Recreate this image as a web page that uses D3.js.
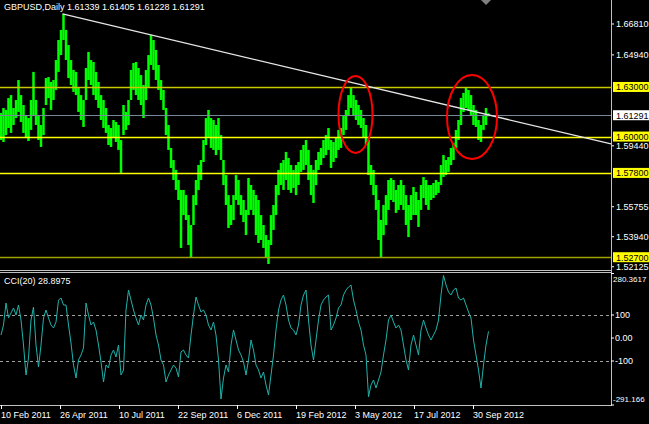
<!DOCTYPE html>
<html><head><meta charset="utf-8">
<script src="https://cdn.jsdelivr.net/npm/d3@7"></script>
<style>
html,body{margin:0;padding:0;background:#000;}
svg{display:block;}
text{font-family:"Liberation Sans",Arial,sans-serif;font-size:9px;fill:#fff;}
</style></head><body>
<svg id="c" width="649" height="424"></svg>
<script>
// ---------------- data ----------------
const symbolName = "GBPUSD,Daily";
const lastOHLC = [1.61339, 1.61405, 1.61228, 1.61291];

const highs = [
1.6143,1.6173,1.6161,1.6233,1.6251,1.6173,1.6221,1.6342,1.6251,1.6191,
1.6130,1.6112,1.6221,1.6391,1.6221,1.6130,1.6070,1.6173,1.6354,1.6360,
1.6330,1.6342,1.6463,1.6584,1.6645,1.6742,1.6645,1.6554,1.6463,1.6403,
1.6391,1.6294,1.6251,1.6221,1.6415,1.6512,1.6463,1.6451,1.6391,1.6330,
1.6251,1.6221,1.6173,1.6070,1.6052,1.6100,1.6088,1.6070,1.5979,1.6191,
1.6149,1.6221,1.6403,1.6445,1.6451,1.6415,1.6372,1.6312,1.6403,1.6493,
1.6614,1.6584,1.6524,1.6433,1.6342,1.6282,1.6173,1.6070,1.5931,1.5858,
1.5798,1.5737,1.5677,1.5677,1.5646,1.5525,1.5465,1.5646,1.5737,1.5828,
1.5858,1.5979,1.6112,1.6161,1.6112,1.6100,1.6070,1.6112,1.6009,1.5858,
1.5767,1.5646,1.5586,1.5646,1.5767,1.5737,1.5646,1.5616,1.5556,1.5749,
1.5707,1.5677,1.5646,1.5616,1.5525,1.5465,1.5404,1.5374,1.5525,1.5586,
1.5707,1.5798,1.5840,1.5858,1.5907,1.5870,1.5828,1.5798,1.5828,1.5846,
1.5919,1.5949,1.5979,1.5919,1.5828,1.5798,1.5858,1.5907,1.5931,1.5979,
1.6009,1.6052,1.5979,1.5967,1.5991,1.6040,1.6052,1.6130,1.6161,1.6251,
1.6294,1.6251,1.6221,1.6191,1.6161,1.6112,1.6070,1.5979,1.5828,1.5798,
1.5707,1.5616,1.5495,1.5586,1.5646,1.5737,1.5749,1.5737,1.5677,1.5707,
1.5737,1.5707,1.5646,1.5586,1.5646,1.5695,1.5665,1.5616,1.5707,1.5755,
1.5737,1.5707,1.5707,1.5719,1.5737,1.5725,1.5828,1.5888,1.5858,1.5876,
1.5931,1.5961,1.6040,1.6100,1.6233,1.6264,1.6300,1.6282,1.6251,1.6191,
1.6161,1.6100,1.6070,1.6130,1.6173,1.61405];

const lows = [
1.5979,1.5967,1.6009,1.6052,1.6022,1.6070,1.6112,1.6149,1.6088,1.6022,
1.5991,1.5973,1.6040,1.6130,1.6070,1.5979,1.5937,1.6009,1.6191,1.6233,
1.6161,1.6221,1.6282,1.6391,1.6493,1.6584,1.6463,1.6354,1.6312,1.6270,
1.6251,1.6149,1.6100,1.6058,1.6221,1.6342,1.6312,1.6251,1.6221,1.6173,
1.6100,1.6052,1.6022,1.5949,1.5937,1.5991,1.5967,1.5919,1.5780,1.6009,
1.6040,1.6070,1.6221,1.6282,1.6251,1.6221,1.6191,1.6112,1.6221,1.6294,
1.6433,1.6403,1.6342,1.6282,1.6221,1.6161,1.6009,1.5919,1.5810,1.5737,
1.5677,1.5616,1.5326,1.5525,1.5495,1.5344,1.5271,1.5465,1.5586,1.5677,
1.5737,1.5846,1.5949,1.5991,1.5931,1.5919,1.5888,1.5919,1.5858,1.5707,
1.5586,1.5447,1.5465,1.5495,1.5616,1.5586,1.5525,1.5483,1.5404,1.5525,
1.5556,1.5525,1.5404,1.5356,1.5374,1.5326,1.5265,1.5229,1.5344,1.5435,
1.5525,1.5646,1.5707,1.5677,1.5737,1.5677,1.5659,1.5689,1.5646,1.5707,
1.5786,1.5798,1.5828,1.5737,1.5646,1.5598,1.5707,1.5798,1.5828,1.5870,
1.5888,1.5919,1.5810,1.5846,1.5870,1.5919,1.5931,1.6009,1.6040,1.6130,
1.6173,1.6130,1.6100,1.6070,1.6052,1.5991,1.5949,1.5767,1.5707,1.5646,
1.5556,1.5374,1.5265,1.5404,1.5465,1.5556,1.5616,1.5604,1.5538,1.5556,
1.5586,1.5556,1.5465,1.5392,1.5495,1.5525,1.5525,1.5453,1.5556,1.5628,
1.5586,1.5556,1.5616,1.5628,1.5646,1.5659,1.5707,1.5755,1.5767,1.5786,
1.5828,1.5858,1.5931,1.5979,1.6070,1.6149,1.6173,1.6161,1.6130,1.6070,
1.6058,1.5979,1.5967,1.6040,1.6070,1.61228];

const cciName = "CCI(20)";
const cciValues = [
13.0,56.5,152.1,86.9,108.7,130.4,100.0,143.4,78.2,-30.4,
-160.8,-86.9,78.2,134.7,-30.4,-126.0,-30.4,86.9,121.7,86.9,
56.5,43.5,69.5,165.1,173.8,143.4,143.4,56.5,-21.7,-117.3,
-173.8,-95.6,-73.9,-43.5,152.1,100.0,56.5,69.5,34.8,-30.4,
-104.3,-191.2,-117.3,-130.4,-73.9,-52.2,-82.6,-30.4,-160.8,-139.1,
121.7,208.6,165.1,121.7,86.9,56.5,100.0,78.2,143.4,173.8,
143.4,86.9,13.0,-30.4,-95.6,-117.3,-191.2,-160.8,-139.1,-117.3,
-130.4,-169.5,-60.8,-52.2,-73.9,-86.9,13.0,100.0,178.2,143.4,
113.0,121.7,100.0,56.5,34.8,69.5,13.0,-95.6,-265.0,-173.8,
-117.3,-147.8,-30.4,34.8,-8.7,-52.2,-73.9,-104.3,-160.8,-95.6,
-8.7,-52.2,-117.3,-139.1,-173.8,-147.8,-204.3,-247.7,-160.8,-73.9,
34.8,121.7,165.1,186.9,143.4,78.2,43.5,34.8,13.0,56.5,
143.4,186.9,208.6,78.2,-30.4,-95.6,-8.7,78.2,143.4,165.1,
178.2,186.9,34.8,56.5,86.9,130.4,143.4,186.9,208.6,221.6,
230.3,165.1,121.7,69.5,34.8,-30.4,-73.9,-255.0,-204.3,-182.5,
-217.3,-182.5,-147.8,-73.9,-8.7,78.2,100.0,69.5,43.5,56.5,
34.8,-30.4,-95.6,-139.1,-30.4,13.0,-30.4,-73.9,34.8,78.2,
43.5,13.0,-8.7,13.0,34.8,78.2,186.9,272.0,230.3,199.9,
186.9,208.6,217.3,173.8,165.1,173.8,143.4,113.0,86.9,-8.7,
-73.9,-139.1,-217.3,-117.3,-30.4,28.8975];

const priceTicks = [1.66810, 1.64940, 1.59440, 1.55755, 1.53940, 1.52125];
const levels = [1.63000, 1.60000, 1.57800, 1.52700];
const cciLevels = [100, -100];
const cciTicks = [280.3617, 100, 0, -100, -291.166];
const cciTickLabels = ["280.3617", "100", "0.00", "-100", "-291.166"];
const dateLabels = ["10 Feb 2011","26 Apr 2011","10 Jul 2011","22 Sep 2011","6 Dec 2011",
                    "19 Feb 2012","3 May 2012","17 Jul 2012","30 Sep 2012"];
const dateIdx = [0, 23.6, 47.2, 70.8, 94.4, 118, 141.6, 165.2, 188.8];
// trend line anchors: [bar index, price]
const trendIdx = [24.6, 244];
const trendPrice = [1.6742, 1.5955];
// ellipse annotations: centre index, centre price, half width (bars), half height (price)
const ellipseIdx = [141.8, 188.4];
const ellipsePrice = [1.6134, 1.6118];
const ellipseHalfW = [6.8, 10];
const ellipseHalfH = [0.0233, 0.0254];

// ---------------- drawing ----------------
const svg = d3.select("#c");
const plotR = 611, mainTop = 2, mainBot = 268, cciTop = 273.5, cciBot = 405;
const x = d3.scaleLinear().domain([0, 244]).range([1, plotR]);
const y = d3.scaleLinear().domain([1.52047, 1.68141]).range([mainBot, mainTop]);
const yc = d3.scaleLinear().domain([-291.166, 280.3617]).range([cciBot, cciTop]);

svg.append("rect").attr("width",649).attr("height",424).attr("fill","#000");

const main = svg.append("g");
main.selectAll("line.bar").data(highs).join("line").attr("class","bar")
  .attr("x1",(d,i)=>x(i)).attr("x2",(d,i)=>x(i))
  .attr("y1",d=>y(d)).attr("y2",(d,i)=>y(lows[i]))
  .attr("stroke","#00ff00").attr("stroke-width",2.5);

const levelColors = ["#c8c800","#ffff00","#ffff00","#a0a000"];
main.selectAll("line.lvl").data(levels).join("line").attr("class","lvl")
  .attr("x1",0).attr("x2",plotR).attr("y1",d=>Math.round(y(d))+0.5).attr("y2",d=>Math.round(y(d))+0.5)
  .attr("stroke",(d,i)=>levelColors[i]).attr("stroke-width",1.5);

const lastClose = lastOHLC[3];
main.append("line").attr("x1",0).attr("x2",plotR)
  .attr("y1",Math.round(y(lastClose))+0.5).attr("y2",Math.round(y(lastClose))+0.5)
  .attr("stroke","#778899").attr("stroke-width",1);

main.append("line")
  .attr("x1",x(trendIdx[0])).attr("y1",y(trendPrice[0]))
  .attr("x2",x(trendIdx[1])).attr("y2",y(trendPrice[1]))
  .attr("stroke","#e6e6e6").attr("stroke-width",1.3);

main.selectAll("ellipse").data(ellipseIdx).join("ellipse")
  .attr("cx",d=>x(d)).attr("cy",(d,i)=>y(ellipsePrice[i]))
  .attr("rx",(d,i)=>x(d+ellipseHalfW[i])-x(d))
  .attr("ry",(d,i)=>y(ellipsePrice[i]-ellipseHalfH[i])-y(ellipsePrice[i]))
  .attr("fill","none").attr("stroke","#ff0000").attr("stroke-width",2);

// shift marker
svg.append("path").attr("d","M481,0 L491,0 L486,5 Z").attr("fill","#808080");

// header
svg.append("text").attr("x",4).attr("y",10)
  .text(symbolName + "  " + lastOHLC.map(v=>v.toFixed(5)).join(" "));

// right price axis
svg.selectAll("line.pt").data(priceTicks).join("line").attr("class","pt")
  .attr("x1",plotR).attr("x2",plotR+3).attr("y1",d=>y(d)).attr("y2",d=>y(d)).attr("stroke","#fff");
svg.selectAll("text.pt").data(priceTicks).join("text").attr("class","pt")
  .attr("x",616).attr("y",d=>y(d)+3).text(d=>d.toFixed(5));

const boxVals = levels.concat([lastClose]);
const boxFill = ["#ffff00","#ffff00","#ffff00","#ffff00","#ffffff"];
const bx = svg.selectAll("g.box").data(boxVals).join("g").attr("class","box");
bx.append("rect").attr("x",613).attr("y",d=>y(d)-5).attr("width",40).attr("height",10)
  .attr("fill",(d,i)=>boxFill[i]);
bx.append("text").attr("x",616).attr("y",d=>y(d)+3.5).style("fill","#000").text(d=>d.toFixed(5));

// panel frame
const frame = "#c0c0c0";
svg.append("line").attr("x1",plotR+0.5).attr("x2",plotR+0.5).attr("y1",0).attr("y2",cciBot+1).attr("stroke",frame);
svg.append("line").attr("x1",0).attr("x2",plotR).attr("y1",270.5).attr("y2",270.5).attr("stroke",frame);
svg.append("line").attr("x1",0).attr("x2",plotR).attr("y1",272.5).attr("y2",272.5).attr("stroke",frame);
svg.append("line").attr("x1",0).attr("x2",plotR+1).attr("y1",cciBot+0.5).attr("y2",cciBot+0.5).attr("stroke",frame);

// CCI panel
const cg = svg.append("g");
cg.selectAll("line.cl").data(cciLevels).join("line").attr("class","cl")
  .attr("x1",0).attr("x2",plotR).attr("y1",d=>Math.round(yc(d))+0.5).attr("y2",d=>Math.round(yc(d))+0.5)
  .attr("stroke","#a0a0a0").attr("stroke-dasharray","3,3");
cg.append("path").datum(cciValues)
  .attr("d",d3.line().x((d,i)=>x(i)).y(d=>yc(d)))
  .attr("fill","none").attr("stroke","#20b2aa").attr("stroke-width",1);
svg.append("text").attr("x",4).attr("y",284).text(cciName + " " + cciValues[cciValues.length-1].toFixed(4));

svg.selectAll("line.ct").data(cciTicks).join("line").attr("class","ct")
  .attr("x1",plotR).attr("x2",plotR+3).attr("y1",d=>yc(d)).attr("y2",d=>yc(d)).attr("stroke","#fff");
svg.selectAll("text.ct").data(cciTicks).join("text").attr("class","ct")
  .attr("x",(d,i)=>cciTickLabels[i].length>5 ? 613 : 615)
  .attr("y",(d,i)=>Math.min(Math.max(yc(d)+3,282),402))
  .style("font-size",(d,i)=>cciTickLabels[i].length>7 ? "8px" : null)
  .text((d,i)=>cciTickLabels[i]);

// date axis
svg.selectAll("line.dt").data(dateIdx).join("line").attr("class","dt")
  .attr("x1",d=>Math.round(x(d))+0.5).attr("x2",d=>Math.round(x(d))+0.5)
  .attr("y1",cciBot).attr("y2",cciBot+4).attr("stroke","#fff");
svg.selectAll("text.dt").data(dateIdx).join("text").attr("class","dt")
  .attr("x",d=>x(d)).attr("y",418).text((d,i)=>dateLabels[i]);
</script>
</body></html>
